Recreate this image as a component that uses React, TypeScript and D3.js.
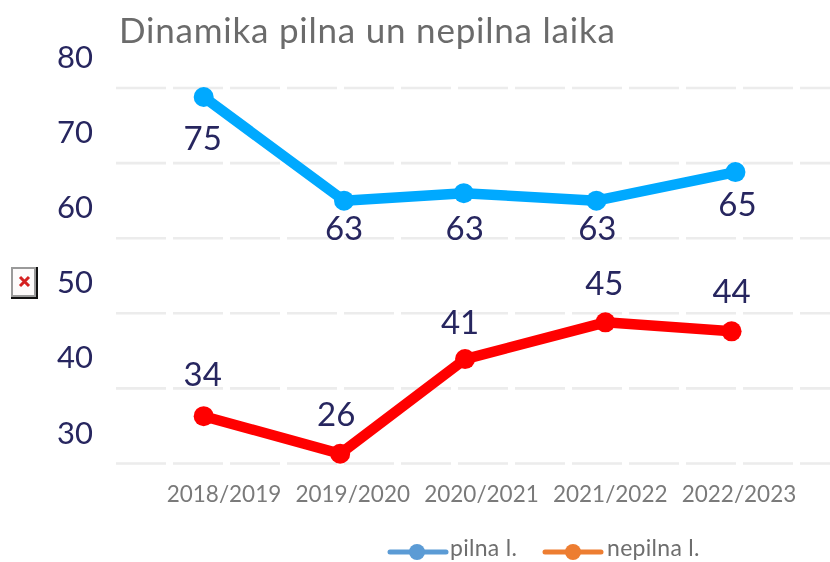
import React from "react";
import * as d3 from "d3";

const title = "Dinamika pilna un nepilna laika";
const categories = ["2018/2019", "2019/2020", "2020/2021", "2021/2022", "2022/2023"];
const yTicks = [30, 40, 50, 60, 70, 80];
const fullName = "pilna l.";
const partName = "nepilna l.";
// Values: drawn height, printed label, and the category slot the point was drawn in.
const fullValues = [78.8, 65, 66, 65, 68.8];
const fullLabels = [75, 63, 63, 63, 65];
const fullSlots = [-0.15, 0.94, 1.87, 2.9, 3.98];
const partValues = [36.3, 31.3, 43.9, 48.8, 47.6];
const partLabels = [34, 26, 41, 45, 44];
const partSlots = [-0.15, 0.91, 1.88, 2.97, 3.95];
const fullLabelShift = [42, 28, 36, 28, 33];
const partLabelShift = [-41, -39, -36, -38, -39];
const fullLabelDx = [-1, 0, 1, 1, 2];
const partLabelDx = [-1, -4, -5, -1, 0];

const W = 830;
const H = 562;
const FONT = "Lato, 'Open Sans', sans-serif";

export default function App() {
  const y = d3.scaleLinear().domain([30, 80]).range([463.5, 88]);
  const slot = d3.scaleLinear().domain([0, 4]).range([223, 738]);
  const line = d3
    .line<[number, number]>()
    .x((d) => slot(d[0]))
    .y((d) => y(d[1]));

  const series = [
    { slots: fullSlots, values: fullValues, labels: fullLabels, shift: fullLabelShift, dx: fullLabelDx, color: "#00a9ff" },
    { slots: partSlots, values: partValues, labels: partLabels, shift: partLabelShift, dx: partLabelDx, color: "#ff0000" },
  ];

  return (
    <svg
      width={W}
      height={H}
      viewBox={`0 0 ${W} ${H}`}
      style={{ position: "fixed", left: 0, top: 0, background: "#fff", fontFamily: FONT, filter: "blur(0.5px)" }}
    >
      <text x={119} y={43} fontSize={35} letterSpacing={0.78} fill="#6b6b6b">
        {title}
      </text>

      {yTicks.map((t) => (
        <g key={t}>
          <line x1={116} x2={830} y1={y(t)} y2={y(t)} stroke="#ececec" strokeWidth={2.6} strokeDasharray="50 7" />
          <text x={75} y={y(t) - 20} fontSize={31} fill="#27265f" textAnchor="middle">
            {t}
          </text>
        </g>
      ))}

      {categories.map((c, i) => (
        <text key={c} x={slot(i) + 1} y={502} fontSize={22.5} fill="#7a7a7a" textAnchor="middle">
          {c}
        </text>
      ))}

      {series.map((s) => (
        <g key={s.color}>
          <path
            d={line(s.values.map((v, i) => [s.slots[i], v]) as [number, number][]) ?? ""}
            fill="none"
            stroke={s.color}
            strokeWidth={10.5}
            strokeLinejoin="round"
          />
          {s.values.map((v, i) => (
            <circle key={i} cx={slot(s.slots[i])} cy={y(v)} r={10} fill={s.color} />
          ))}
          {s.labels.map((l, i) => (
            <text
              key={i}
              x={slot(s.slots[i]) + s.dx[i]}
              y={y(s.values[i]) + s.shift[i] + 11}
              fontSize={33}
              fill="#27265f"
              textAnchor="middle"
            >
              {l}
            </text>
          ))}
        </g>
      ))}

      {/* broken-image icon */}
      <g>
        <rect x={11} y={267} width={27} height={32} fill="#111" />
        <rect x={11} y={267} width={25} height={30} fill="#9a9a9a" />
        <rect x={13} y={269} width={21} height={26} fill="#fdfbfb" />
        <path d="M20 277 L29 286 M29 277 L20 286" stroke="#d42020" strokeWidth={3} />
      </g>

      {/* legend */}
      <g>
        <line x1={390} x2={446} y1={552} y2={552} stroke="#5b9bd5" strokeWidth={5} strokeLinecap="round" />
        <circle cx={417} cy={552} r={8} fill="#5b9bd5" />
        <text x={450} y={556} fontSize={23} letterSpacing={0.3} fill="#6e6e6e">
          {fullName}
        </text>
        <line x1={545} x2={601} y1={552} y2={552} stroke="#ed7d31" strokeWidth={5} strokeLinecap="round" />
        <circle cx={573} cy={552} r={8} fill="#ed7d31" />
        <text x={607} y={556} fontSize={23} letterSpacing={0.3} fill="#6e6e6e">
          {partName}
        </text>
      </g>
    </svg>
  );
}
